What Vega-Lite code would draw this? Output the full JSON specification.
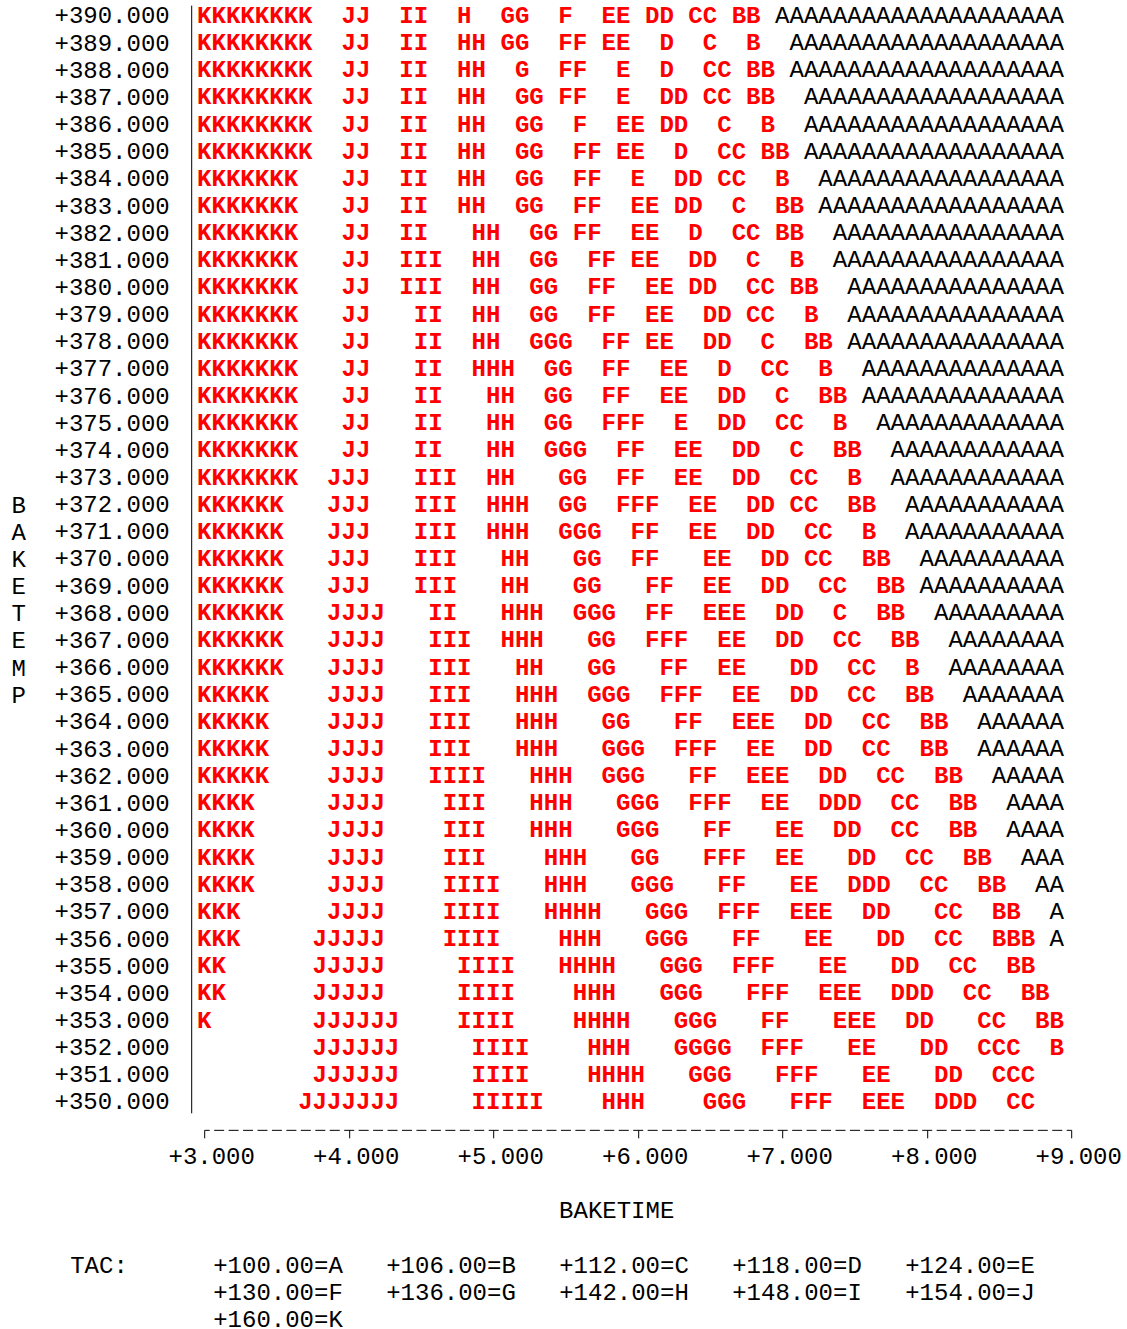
{
"$schema": "https://vega.github.io/schema/vega-lite/v6.json",
"width": 867, "height": 1107.7,
"autosize": {"type": "none"},
"padding": {"left": 204.2, "top": 5.14, "right": 55.8, "bottom": 216.16},
"background": "white",
"config": {"view": {"stroke": null}, "font": "Liberation Mono"},
"data": {"values": [
{"temp":390,"time":3,"run":"KKKKKKKK","key":"+160.00=K"},{"temp":390,"time":4,"run":"JJ","key":"+154.00=J"},{"temp":390,"time":4.4,"run":"II","key":"+148.00=I"},{"temp":390,"time":4.8,"run":"H","key":"+142.00=H"},{"temp":390,"time":5.1,"run":"GG","key":"+136.00=G"},{"temp":390,"time":5.5,"run":"F","key":"+130.00=F"},{"temp":390,"time":5.8,"run":"EE","key":"+124.00=E"},{"temp":390,"time":6.1,"run":"DD","key":"+118.00=D"},{"temp":390,"time":6.4,"run":"CC","key":"+112.00=C"},{"temp":390,"time":6.7,"run":"BB","key":"+106.00=B"},{"temp":390,"time":7,"run":"AAAAAAAAAAAAAAAAAAAA","key":"+100.00=A"},
{"temp":389,"time":3,"run":"KKKKKKKK","key":"+160.00=K"},{"temp":389,"time":4,"run":"JJ","key":"+154.00=J"},{"temp":389,"time":4.4,"run":"II","key":"+148.00=I"},{"temp":389,"time":4.8,"run":"HH","key":"+142.00=H"},{"temp":389,"time":5.1,"run":"GG","key":"+136.00=G"},{"temp":389,"time":5.5,"run":"FF","key":"+130.00=F"},{"temp":389,"time":5.8,"run":"EE","key":"+124.00=E"},{"temp":389,"time":6.2,"run":"D","key":"+118.00=D"},{"temp":389,"time":6.5,"run":"C","key":"+112.00=C"},{"temp":389,"time":6.8,"run":"B","key":"+106.00=B"},{"temp":389,"time":7.1,"run":"AAAAAAAAAAAAAAAAAAA","key":"+100.00=A"},
{"temp":388,"time":3,"run":"KKKKKKKK","key":"+160.00=K"},{"temp":388,"time":4,"run":"JJ","key":"+154.00=J"},{"temp":388,"time":4.4,"run":"II","key":"+148.00=I"},{"temp":388,"time":4.8,"run":"HH","key":"+142.00=H"},{"temp":388,"time":5.2,"run":"G","key":"+136.00=G"},{"temp":388,"time":5.5,"run":"FF","key":"+130.00=F"},{"temp":388,"time":5.9,"run":"E","key":"+124.00=E"},{"temp":388,"time":6.2,"run":"D","key":"+118.00=D"},{"temp":388,"time":6.5,"run":"CC","key":"+112.00=C"},{"temp":388,"time":6.8,"run":"BB","key":"+106.00=B"},{"temp":388,"time":7.1,"run":"AAAAAAAAAAAAAAAAAAA","key":"+100.00=A"},
{"temp":387,"time":3,"run":"KKKKKKKK","key":"+160.00=K"},{"temp":387,"time":4,"run":"JJ","key":"+154.00=J"},{"temp":387,"time":4.4,"run":"II","key":"+148.00=I"},{"temp":387,"time":4.8,"run":"HH","key":"+142.00=H"},{"temp":387,"time":5.2,"run":"GG","key":"+136.00=G"},{"temp":387,"time":5.5,"run":"FF","key":"+130.00=F"},{"temp":387,"time":5.9,"run":"E","key":"+124.00=E"},{"temp":387,"time":6.2,"run":"DD","key":"+118.00=D"},{"temp":387,"time":6.5,"run":"CC","key":"+112.00=C"},{"temp":387,"time":6.8,"run":"BB","key":"+106.00=B"},{"temp":387,"time":7.2,"run":"AAAAAAAAAAAAAAAAAA","key":"+100.00=A"},
{"temp":386,"time":3,"run":"KKKKKKKK","key":"+160.00=K"},{"temp":386,"time":4,"run":"JJ","key":"+154.00=J"},{"temp":386,"time":4.4,"run":"II","key":"+148.00=I"},{"temp":386,"time":4.8,"run":"HH","key":"+142.00=H"},{"temp":386,"time":5.2,"run":"GG","key":"+136.00=G"},{"temp":386,"time":5.6,"run":"F","key":"+130.00=F"},{"temp":386,"time":5.9,"run":"EE","key":"+124.00=E"},{"temp":386,"time":6.2,"run":"DD","key":"+118.00=D"},{"temp":386,"time":6.6,"run":"C","key":"+112.00=C"},{"temp":386,"time":6.9,"run":"B","key":"+106.00=B"},{"temp":386,"time":7.2,"run":"AAAAAAAAAAAAAAAAAA","key":"+100.00=A"},
{"temp":385,"time":3,"run":"KKKKKKKK","key":"+160.00=K"},{"temp":385,"time":4,"run":"JJ","key":"+154.00=J"},{"temp":385,"time":4.4,"run":"II","key":"+148.00=I"},{"temp":385,"time":4.8,"run":"HH","key":"+142.00=H"},{"temp":385,"time":5.2,"run":"GG","key":"+136.00=G"},{"temp":385,"time":5.6,"run":"FF","key":"+130.00=F"},{"temp":385,"time":5.9,"run":"EE","key":"+124.00=E"},{"temp":385,"time":6.3,"run":"D","key":"+118.00=D"},{"temp":385,"time":6.6,"run":"CC","key":"+112.00=C"},{"temp":385,"time":6.9,"run":"BB","key":"+106.00=B"},{"temp":385,"time":7.2,"run":"AAAAAAAAAAAAAAAAAA","key":"+100.00=A"},
{"temp":384,"time":3,"run":"KKKKKKK","key":"+160.00=K"},{"temp":384,"time":4,"run":"JJ","key":"+154.00=J"},{"temp":384,"time":4.4,"run":"II","key":"+148.00=I"},{"temp":384,"time":4.8,"run":"HH","key":"+142.00=H"},{"temp":384,"time":5.2,"run":"GG","key":"+136.00=G"},{"temp":384,"time":5.6,"run":"FF","key":"+130.00=F"},{"temp":384,"time":6,"run":"E","key":"+124.00=E"},{"temp":384,"time":6.3,"run":"DD","key":"+118.00=D"},{"temp":384,"time":6.6,"run":"CC","key":"+112.00=C"},{"temp":384,"time":7,"run":"B","key":"+106.00=B"},{"temp":384,"time":7.3,"run":"AAAAAAAAAAAAAAAAA","key":"+100.00=A"},
{"temp":383,"time":3,"run":"KKKKKKK","key":"+160.00=K"},{"temp":383,"time":4,"run":"JJ","key":"+154.00=J"},{"temp":383,"time":4.4,"run":"II","key":"+148.00=I"},{"temp":383,"time":4.8,"run":"HH","key":"+142.00=H"},{"temp":383,"time":5.2,"run":"GG","key":"+136.00=G"},{"temp":383,"time":5.6,"run":"FF","key":"+130.00=F"},{"temp":383,"time":6,"run":"EE","key":"+124.00=E"},{"temp":383,"time":6.3,"run":"DD","key":"+118.00=D"},{"temp":383,"time":6.7,"run":"C","key":"+112.00=C"},{"temp":383,"time":7,"run":"BB","key":"+106.00=B"},{"temp":383,"time":7.3,"run":"AAAAAAAAAAAAAAAAA","key":"+100.00=A"},
{"temp":382,"time":3,"run":"KKKKKKK","key":"+160.00=K"},{"temp":382,"time":4,"run":"JJ","key":"+154.00=J"},{"temp":382,"time":4.4,"run":"II","key":"+148.00=I"},{"temp":382,"time":4.9,"run":"HH","key":"+142.00=H"},{"temp":382,"time":5.3,"run":"GG","key":"+136.00=G"},{"temp":382,"time":5.6,"run":"FF","key":"+130.00=F"},{"temp":382,"time":6,"run":"EE","key":"+124.00=E"},{"temp":382,"time":6.4,"run":"D","key":"+118.00=D"},{"temp":382,"time":6.7,"run":"CC","key":"+112.00=C"},{"temp":382,"time":7,"run":"BB","key":"+106.00=B"},{"temp":382,"time":7.4,"run":"AAAAAAAAAAAAAAAA","key":"+100.00=A"},
{"temp":381,"time":3,"run":"KKKKKKK","key":"+160.00=K"},{"temp":381,"time":4,"run":"JJ","key":"+154.00=J"},{"temp":381,"time":4.4,"run":"III","key":"+148.00=I"},{"temp":381,"time":4.9,"run":"HH","key":"+142.00=H"},{"temp":381,"time":5.3,"run":"GG","key":"+136.00=G"},{"temp":381,"time":5.7,"run":"FF","key":"+130.00=F"},{"temp":381,"time":6,"run":"EE","key":"+124.00=E"},{"temp":381,"time":6.4,"run":"DD","key":"+118.00=D"},{"temp":381,"time":6.8,"run":"C","key":"+112.00=C"},{"temp":381,"time":7.1,"run":"B","key":"+106.00=B"},{"temp":381,"time":7.4,"run":"AAAAAAAAAAAAAAAA","key":"+100.00=A"},
{"temp":380,"time":3,"run":"KKKKKKK","key":"+160.00=K"},{"temp":380,"time":4,"run":"JJ","key":"+154.00=J"},{"temp":380,"time":4.4,"run":"III","key":"+148.00=I"},{"temp":380,"time":4.9,"run":"HH","key":"+142.00=H"},{"temp":380,"time":5.3,"run":"GG","key":"+136.00=G"},{"temp":380,"time":5.7,"run":"FF","key":"+130.00=F"},{"temp":380,"time":6.1,"run":"EE","key":"+124.00=E"},{"temp":380,"time":6.4,"run":"DD","key":"+118.00=D"},{"temp":380,"time":6.8,"run":"CC","key":"+112.00=C"},{"temp":380,"time":7.1,"run":"BB","key":"+106.00=B"},{"temp":380,"time":7.5,"run":"AAAAAAAAAAAAAAA","key":"+100.00=A"},
{"temp":379,"time":3,"run":"KKKKKKK","key":"+160.00=K"},{"temp":379,"time":4,"run":"JJ","key":"+154.00=J"},{"temp":379,"time":4.5,"run":"II","key":"+148.00=I"},{"temp":379,"time":4.9,"run":"HH","key":"+142.00=H"},{"temp":379,"time":5.3,"run":"GG","key":"+136.00=G"},{"temp":379,"time":5.7,"run":"FF","key":"+130.00=F"},{"temp":379,"time":6.1,"run":"EE","key":"+124.00=E"},{"temp":379,"time":6.5,"run":"DD","key":"+118.00=D"},{"temp":379,"time":6.8,"run":"CC","key":"+112.00=C"},{"temp":379,"time":7.2,"run":"B","key":"+106.00=B"},{"temp":379,"time":7.5,"run":"AAAAAAAAAAAAAAA","key":"+100.00=A"},
{"temp":378,"time":3,"run":"KKKKKKK","key":"+160.00=K"},{"temp":378,"time":4,"run":"JJ","key":"+154.00=J"},{"temp":378,"time":4.5,"run":"II","key":"+148.00=I"},{"temp":378,"time":4.9,"run":"HH","key":"+142.00=H"},{"temp":378,"time":5.3,"run":"GGG","key":"+136.00=G"},{"temp":378,"time":5.8,"run":"FF","key":"+130.00=F"},{"temp":378,"time":6.1,"run":"EE","key":"+124.00=E"},{"temp":378,"time":6.5,"run":"DD","key":"+118.00=D"},{"temp":378,"time":6.9,"run":"C","key":"+112.00=C"},{"temp":378,"time":7.2,"run":"BB","key":"+106.00=B"},{"temp":378,"time":7.5,"run":"AAAAAAAAAAAAAAA","key":"+100.00=A"},
{"temp":377,"time":3,"run":"KKKKKKK","key":"+160.00=K"},{"temp":377,"time":4,"run":"JJ","key":"+154.00=J"},{"temp":377,"time":4.5,"run":"II","key":"+148.00=I"},{"temp":377,"time":4.9,"run":"HHH","key":"+142.00=H"},{"temp":377,"time":5.4,"run":"GG","key":"+136.00=G"},{"temp":377,"time":5.8,"run":"FF","key":"+130.00=F"},{"temp":377,"time":6.2,"run":"EE","key":"+124.00=E"},{"temp":377,"time":6.6,"run":"D","key":"+118.00=D"},{"temp":377,"time":6.9,"run":"CC","key":"+112.00=C"},{"temp":377,"time":7.3,"run":"B","key":"+106.00=B"},{"temp":377,"time":7.6,"run":"AAAAAAAAAAAAAA","key":"+100.00=A"},
{"temp":376,"time":3,"run":"KKKKKKK","key":"+160.00=K"},{"temp":376,"time":4,"run":"JJ","key":"+154.00=J"},{"temp":376,"time":4.5,"run":"II","key":"+148.00=I"},{"temp":376,"time":5,"run":"HH","key":"+142.00=H"},{"temp":376,"time":5.4,"run":"GG","key":"+136.00=G"},{"temp":376,"time":5.8,"run":"FF","key":"+130.00=F"},{"temp":376,"time":6.2,"run":"EE","key":"+124.00=E"},{"temp":376,"time":6.6,"run":"DD","key":"+118.00=D"},{"temp":376,"time":7,"run":"C","key":"+112.00=C"},{"temp":376,"time":7.3,"run":"BB","key":"+106.00=B"},{"temp":376,"time":7.6,"run":"AAAAAAAAAAAAAA","key":"+100.00=A"},
{"temp":375,"time":3,"run":"KKKKKKK","key":"+160.00=K"},{"temp":375,"time":4,"run":"JJ","key":"+154.00=J"},{"temp":375,"time":4.5,"run":"II","key":"+148.00=I"},{"temp":375,"time":5,"run":"HH","key":"+142.00=H"},{"temp":375,"time":5.4,"run":"GG","key":"+136.00=G"},{"temp":375,"time":5.8,"run":"FFF","key":"+130.00=F"},{"temp":375,"time":6.3,"run":"E","key":"+124.00=E"},{"temp":375,"time":6.6,"run":"DD","key":"+118.00=D"},{"temp":375,"time":7,"run":"CC","key":"+112.00=C"},{"temp":375,"time":7.4,"run":"B","key":"+106.00=B"},{"temp":375,"time":7.7,"run":"AAAAAAAAAAAAA","key":"+100.00=A"},
{"temp":374,"time":3,"run":"KKKKKKK","key":"+160.00=K"},{"temp":374,"time":4,"run":"JJ","key":"+154.00=J"},{"temp":374,"time":4.5,"run":"II","key":"+148.00=I"},{"temp":374,"time":5,"run":"HH","key":"+142.00=H"},{"temp":374,"time":5.4,"run":"GGG","key":"+136.00=G"},{"temp":374,"time":5.9,"run":"FF","key":"+130.00=F"},{"temp":374,"time":6.3,"run":"EE","key":"+124.00=E"},{"temp":374,"time":6.7,"run":"DD","key":"+118.00=D"},{"temp":374,"time":7.1,"run":"C","key":"+112.00=C"},{"temp":374,"time":7.4,"run":"BB","key":"+106.00=B"},{"temp":374,"time":7.8,"run":"AAAAAAAAAAAA","key":"+100.00=A"},
{"temp":373,"time":3,"run":"KKKKKKK","key":"+160.00=K"},{"temp":373,"time":3.9,"run":"JJJ","key":"+154.00=J"},{"temp":373,"time":4.5,"run":"III","key":"+148.00=I"},{"temp":373,"time":5,"run":"HH","key":"+142.00=H"},{"temp":373,"time":5.5,"run":"GG","key":"+136.00=G"},{"temp":373,"time":5.9,"run":"FF","key":"+130.00=F"},{"temp":373,"time":6.3,"run":"EE","key":"+124.00=E"},{"temp":373,"time":6.7,"run":"DD","key":"+118.00=D"},{"temp":373,"time":7.1,"run":"CC","key":"+112.00=C"},{"temp":373,"time":7.5,"run":"B","key":"+106.00=B"},{"temp":373,"time":7.8,"run":"AAAAAAAAAAAA","key":"+100.00=A"},
{"temp":372,"time":3,"run":"KKKKKK","key":"+160.00=K"},{"temp":372,"time":3.9,"run":"JJJ","key":"+154.00=J"},{"temp":372,"time":4.5,"run":"III","key":"+148.00=I"},{"temp":372,"time":5,"run":"HHH","key":"+142.00=H"},{"temp":372,"time":5.5,"run":"GG","key":"+136.00=G"},{"temp":372,"time":5.9,"run":"FFF","key":"+130.00=F"},{"temp":372,"time":6.4,"run":"EE","key":"+124.00=E"},{"temp":372,"time":6.8,"run":"DD","key":"+118.00=D"},{"temp":372,"time":7.1,"run":"CC","key":"+112.00=C"},{"temp":372,"time":7.5,"run":"BB","key":"+106.00=B"},{"temp":372,"time":7.9,"run":"AAAAAAAAAAA","key":"+100.00=A"},
{"temp":371,"time":3,"run":"KKKKKK","key":"+160.00=K"},{"temp":371,"time":3.9,"run":"JJJ","key":"+154.00=J"},{"temp":371,"time":4.5,"run":"III","key":"+148.00=I"},{"temp":371,"time":5,"run":"HHH","key":"+142.00=H"},{"temp":371,"time":5.5,"run":"GGG","key":"+136.00=G"},{"temp":371,"time":6,"run":"FF","key":"+130.00=F"},{"temp":371,"time":6.4,"run":"EE","key":"+124.00=E"},{"temp":371,"time":6.8,"run":"DD","key":"+118.00=D"},{"temp":371,"time":7.2,"run":"CC","key":"+112.00=C"},{"temp":371,"time":7.6,"run":"B","key":"+106.00=B"},{"temp":371,"time":7.9,"run":"AAAAAAAAAAA","key":"+100.00=A"},
{"temp":370,"time":3,"run":"KKKKKK","key":"+160.00=K"},{"temp":370,"time":3.9,"run":"JJJ","key":"+154.00=J"},{"temp":370,"time":4.5,"run":"III","key":"+148.00=I"},{"temp":370,"time":5.1,"run":"HH","key":"+142.00=H"},{"temp":370,"time":5.6,"run":"GG","key":"+136.00=G"},{"temp":370,"time":6,"run":"FF","key":"+130.00=F"},{"temp":370,"time":6.5,"run":"EE","key":"+124.00=E"},{"temp":370,"time":6.9,"run":"DD","key":"+118.00=D"},{"temp":370,"time":7.2,"run":"CC","key":"+112.00=C"},{"temp":370,"time":7.6,"run":"BB","key":"+106.00=B"},{"temp":370,"time":8,"run":"AAAAAAAAAA","key":"+100.00=A"},
{"temp":369,"time":3,"run":"KKKKKK","key":"+160.00=K"},{"temp":369,"time":3.9,"run":"JJJ","key":"+154.00=J"},{"temp":369,"time":4.5,"run":"III","key":"+148.00=I"},{"temp":369,"time":5.1,"run":"HH","key":"+142.00=H"},{"temp":369,"time":5.6,"run":"GG","key":"+136.00=G"},{"temp":369,"time":6.1,"run":"FF","key":"+130.00=F"},{"temp":369,"time":6.5,"run":"EE","key":"+124.00=E"},{"temp":369,"time":6.9,"run":"DD","key":"+118.00=D"},{"temp":369,"time":7.3,"run":"CC","key":"+112.00=C"},{"temp":369,"time":7.7,"run":"BB","key":"+106.00=B"},{"temp":369,"time":8,"run":"AAAAAAAAAA","key":"+100.00=A"},
{"temp":368,"time":3,"run":"KKKKKK","key":"+160.00=K"},{"temp":368,"time":3.9,"run":"JJJJ","key":"+154.00=J"},{"temp":368,"time":4.6,"run":"II","key":"+148.00=I"},{"temp":368,"time":5.1,"run":"HHH","key":"+142.00=H"},{"temp":368,"time":5.6,"run":"GGG","key":"+136.00=G"},{"temp":368,"time":6.1,"run":"FF","key":"+130.00=F"},{"temp":368,"time":6.5,"run":"EEE","key":"+124.00=E"},{"temp":368,"time":7,"run":"DD","key":"+118.00=D"},{"temp":368,"time":7.4,"run":"C","key":"+112.00=C"},{"temp":368,"time":7.7,"run":"BB","key":"+106.00=B"},{"temp":368,"time":8.1,"run":"AAAAAAAAA","key":"+100.00=A"},
{"temp":367,"time":3,"run":"KKKKKK","key":"+160.00=K"},{"temp":367,"time":3.9,"run":"JJJJ","key":"+154.00=J"},{"temp":367,"time":4.6,"run":"III","key":"+148.00=I"},{"temp":367,"time":5.1,"run":"HHH","key":"+142.00=H"},{"temp":367,"time":5.7,"run":"GG","key":"+136.00=G"},{"temp":367,"time":6.1,"run":"FFF","key":"+130.00=F"},{"temp":367,"time":6.6,"run":"EE","key":"+124.00=E"},{"temp":367,"time":7,"run":"DD","key":"+118.00=D"},{"temp":367,"time":7.4,"run":"CC","key":"+112.00=C"},{"temp":367,"time":7.8,"run":"BB","key":"+106.00=B"},{"temp":367,"time":8.2,"run":"AAAAAAAA","key":"+100.00=A"},
{"temp":366,"time":3,"run":"KKKKKK","key":"+160.00=K"},{"temp":366,"time":3.9,"run":"JJJJ","key":"+154.00=J"},{"temp":366,"time":4.6,"run":"III","key":"+148.00=I"},{"temp":366,"time":5.2,"run":"HH","key":"+142.00=H"},{"temp":366,"time":5.7,"run":"GG","key":"+136.00=G"},{"temp":366,"time":6.2,"run":"FF","key":"+130.00=F"},{"temp":366,"time":6.6,"run":"EE","key":"+124.00=E"},{"temp":366,"time":7.1,"run":"DD","key":"+118.00=D"},{"temp":366,"time":7.5,"run":"CC","key":"+112.00=C"},{"temp":366,"time":7.9,"run":"B","key":"+106.00=B"},{"temp":366,"time":8.2,"run":"AAAAAAAA","key":"+100.00=A"},
{"temp":365,"time":3,"run":"KKKKK","key":"+160.00=K"},{"temp":365,"time":3.9,"run":"JJJJ","key":"+154.00=J"},{"temp":365,"time":4.6,"run":"III","key":"+148.00=I"},{"temp":365,"time":5.2,"run":"HHH","key":"+142.00=H"},{"temp":365,"time":5.7,"run":"GGG","key":"+136.00=G"},{"temp":365,"time":6.2,"run":"FFF","key":"+130.00=F"},{"temp":365,"time":6.7,"run":"EE","key":"+124.00=E"},{"temp":365,"time":7.1,"run":"DD","key":"+118.00=D"},{"temp":365,"time":7.5,"run":"CC","key":"+112.00=C"},{"temp":365,"time":7.9,"run":"BB","key":"+106.00=B"},{"temp":365,"time":8.3,"run":"AAAAAAA","key":"+100.00=A"},
{"temp":364,"time":3,"run":"KKKKK","key":"+160.00=K"},{"temp":364,"time":3.9,"run":"JJJJ","key":"+154.00=J"},{"temp":364,"time":4.6,"run":"III","key":"+148.00=I"},{"temp":364,"time":5.2,"run":"HHH","key":"+142.00=H"},{"temp":364,"time":5.8,"run":"GG","key":"+136.00=G"},{"temp":364,"time":6.3,"run":"FF","key":"+130.00=F"},{"temp":364,"time":6.7,"run":"EEE","key":"+124.00=E"},{"temp":364,"time":7.2,"run":"DD","key":"+118.00=D"},{"temp":364,"time":7.6,"run":"CC","key":"+112.00=C"},{"temp":364,"time":8,"run":"BB","key":"+106.00=B"},{"temp":364,"time":8.4,"run":"AAAAAA","key":"+100.00=A"},
{"temp":363,"time":3,"run":"KKKKK","key":"+160.00=K"},{"temp":363,"time":3.9,"run":"JJJJ","key":"+154.00=J"},{"temp":363,"time":4.6,"run":"III","key":"+148.00=I"},{"temp":363,"time":5.2,"run":"HHH","key":"+142.00=H"},{"temp":363,"time":5.8,"run":"GGG","key":"+136.00=G"},{"temp":363,"time":6.3,"run":"FFF","key":"+130.00=F"},{"temp":363,"time":6.8,"run":"EE","key":"+124.00=E"},{"temp":363,"time":7.2,"run":"DD","key":"+118.00=D"},{"temp":363,"time":7.6,"run":"CC","key":"+112.00=C"},{"temp":363,"time":8,"run":"BB","key":"+106.00=B"},{"temp":363,"time":8.4,"run":"AAAAAA","key":"+100.00=A"},
{"temp":362,"time":3,"run":"KKKKK","key":"+160.00=K"},{"temp":362,"time":3.9,"run":"JJJJ","key":"+154.00=J"},{"temp":362,"time":4.6,"run":"IIII","key":"+148.00=I"},{"temp":362,"time":5.3,"run":"HHH","key":"+142.00=H"},{"temp":362,"time":5.8,"run":"GGG","key":"+136.00=G"},{"temp":362,"time":6.4,"run":"FF","key":"+130.00=F"},{"temp":362,"time":6.8,"run":"EEE","key":"+124.00=E"},{"temp":362,"time":7.3,"run":"DD","key":"+118.00=D"},{"temp":362,"time":7.7,"run":"CC","key":"+112.00=C"},{"temp":362,"time":8.1,"run":"BB","key":"+106.00=B"},{"temp":362,"time":8.5,"run":"AAAAA","key":"+100.00=A"},
{"temp":361,"time":3,"run":"KKKK","key":"+160.00=K"},{"temp":361,"time":3.9,"run":"JJJJ","key":"+154.00=J"},{"temp":361,"time":4.7,"run":"III","key":"+148.00=I"},{"temp":361,"time":5.3,"run":"HHH","key":"+142.00=H"},{"temp":361,"time":5.9,"run":"GGG","key":"+136.00=G"},{"temp":361,"time":6.4,"run":"FFF","key":"+130.00=F"},{"temp":361,"time":6.9,"run":"EE","key":"+124.00=E"},{"temp":361,"time":7.3,"run":"DDD","key":"+118.00=D"},{"temp":361,"time":7.8,"run":"CC","key":"+112.00=C"},{"temp":361,"time":8.2,"run":"BB","key":"+106.00=B"},{"temp":361,"time":8.6,"run":"AAAA","key":"+100.00=A"},
{"temp":360,"time":3,"run":"KKKK","key":"+160.00=K"},{"temp":360,"time":3.9,"run":"JJJJ","key":"+154.00=J"},{"temp":360,"time":4.7,"run":"III","key":"+148.00=I"},{"temp":360,"time":5.3,"run":"HHH","key":"+142.00=H"},{"temp":360,"time":5.9,"run":"GGG","key":"+136.00=G"},{"temp":360,"time":6.5,"run":"FF","key":"+130.00=F"},{"temp":360,"time":7,"run":"EE","key":"+124.00=E"},{"temp":360,"time":7.4,"run":"DD","key":"+118.00=D"},{"temp":360,"time":7.8,"run":"CC","key":"+112.00=C"},{"temp":360,"time":8.2,"run":"BB","key":"+106.00=B"},{"temp":360,"time":8.6,"run":"AAAA","key":"+100.00=A"},
{"temp":359,"time":3,"run":"KKKK","key":"+160.00=K"},{"temp":359,"time":3.9,"run":"JJJJ","key":"+154.00=J"},{"temp":359,"time":4.7,"run":"III","key":"+148.00=I"},{"temp":359,"time":5.4,"run":"HHH","key":"+142.00=H"},{"temp":359,"time":6,"run":"GG","key":"+136.00=G"},{"temp":359,"time":6.5,"run":"FFF","key":"+130.00=F"},{"temp":359,"time":7,"run":"EE","key":"+124.00=E"},{"temp":359,"time":7.5,"run":"DD","key":"+118.00=D"},{"temp":359,"time":7.9,"run":"CC","key":"+112.00=C"},{"temp":359,"time":8.3,"run":"BB","key":"+106.00=B"},{"temp":359,"time":8.7,"run":"AAA","key":"+100.00=A"},
{"temp":358,"time":3,"run":"KKKK","key":"+160.00=K"},{"temp":358,"time":3.9,"run":"JJJJ","key":"+154.00=J"},{"temp":358,"time":4.7,"run":"IIII","key":"+148.00=I"},{"temp":358,"time":5.4,"run":"HHH","key":"+142.00=H"},{"temp":358,"time":6,"run":"GGG","key":"+136.00=G"},{"temp":358,"time":6.6,"run":"FF","key":"+130.00=F"},{"temp":358,"time":7.1,"run":"EE","key":"+124.00=E"},{"temp":358,"time":7.5,"run":"DDD","key":"+118.00=D"},{"temp":358,"time":8,"run":"CC","key":"+112.00=C"},{"temp":358,"time":8.4,"run":"BB","key":"+106.00=B"},{"temp":358,"time":8.8,"run":"AA","key":"+100.00=A"},
{"temp":357,"time":3,"run":"KKK","key":"+160.00=K"},{"temp":357,"time":3.9,"run":"JJJJ","key":"+154.00=J"},{"temp":357,"time":4.7,"run":"IIII","key":"+148.00=I"},{"temp":357,"time":5.4,"run":"HHHH","key":"+142.00=H"},{"temp":357,"time":6.1,"run":"GGG","key":"+136.00=G"},{"temp":357,"time":6.6,"run":"FFF","key":"+130.00=F"},{"temp":357,"time":7.1,"run":"EEE","key":"+124.00=E"},{"temp":357,"time":7.6,"run":"DD","key":"+118.00=D"},{"temp":357,"time":8.1,"run":"CC","key":"+112.00=C"},{"temp":357,"time":8.5,"run":"BB","key":"+106.00=B"},{"temp":357,"time":8.9,"run":"A","key":"+100.00=A"},
{"temp":356,"time":3,"run":"KKK","key":"+160.00=K"},{"temp":356,"time":3.8,"run":"JJJJJ","key":"+154.00=J"},{"temp":356,"time":4.7,"run":"IIII","key":"+148.00=I"},{"temp":356,"time":5.5,"run":"HHH","key":"+142.00=H"},{"temp":356,"time":6.1,"run":"GGG","key":"+136.00=G"},{"temp":356,"time":6.7,"run":"FF","key":"+130.00=F"},{"temp":356,"time":7.2,"run":"EE","key":"+124.00=E"},{"temp":356,"time":7.7,"run":"DD","key":"+118.00=D"},{"temp":356,"time":8.1,"run":"CC","key":"+112.00=C"},{"temp":356,"time":8.5,"run":"BBB","key":"+106.00=B"},{"temp":356,"time":8.9,"run":"A","key":"+100.00=A"},
{"temp":355,"time":3,"run":"KK","key":"+160.00=K"},{"temp":355,"time":3.8,"run":"JJJJJ","key":"+154.00=J"},{"temp":355,"time":4.8,"run":"IIII","key":"+148.00=I"},{"temp":355,"time":5.5,"run":"HHHH","key":"+142.00=H"},{"temp":355,"time":6.2,"run":"GGG","key":"+136.00=G"},{"temp":355,"time":6.7,"run":"FFF","key":"+130.00=F"},{"temp":355,"time":7.3,"run":"EE","key":"+124.00=E"},{"temp":355,"time":7.8,"run":"DD","key":"+118.00=D"},{"temp":355,"time":8.2,"run":"CC","key":"+112.00=C"},{"temp":355,"time":8.6,"run":"BB","key":"+106.00=B"},
{"temp":354,"time":3,"run":"KK","key":"+160.00=K"},{"temp":354,"time":3.8,"run":"JJJJJ","key":"+154.00=J"},{"temp":354,"time":4.8,"run":"IIII","key":"+148.00=I"},{"temp":354,"time":5.6,"run":"HHH","key":"+142.00=H"},{"temp":354,"time":6.2,"run":"GGG","key":"+136.00=G"},{"temp":354,"time":6.8,"run":"FFF","key":"+130.00=F"},{"temp":354,"time":7.3,"run":"EEE","key":"+124.00=E"},{"temp":354,"time":7.8,"run":"DDD","key":"+118.00=D"},{"temp":354,"time":8.3,"run":"CC","key":"+112.00=C"},{"temp":354,"time":8.7,"run":"BB","key":"+106.00=B"},
{"temp":353,"time":3,"run":"K","key":"+160.00=K"},{"temp":353,"time":3.8,"run":"JJJJJJ","key":"+154.00=J"},{"temp":353,"time":4.8,"run":"IIII","key":"+148.00=I"},{"temp":353,"time":5.6,"run":"HHHH","key":"+142.00=H"},{"temp":353,"time":6.3,"run":"GGG","key":"+136.00=G"},{"temp":353,"time":6.9,"run":"FF","key":"+130.00=F"},{"temp":353,"time":7.4,"run":"EEE","key":"+124.00=E"},{"temp":353,"time":7.9,"run":"DD","key":"+118.00=D"},{"temp":353,"time":8.4,"run":"CC","key":"+112.00=C"},{"temp":353,"time":8.8,"run":"BB","key":"+106.00=B"},
{"temp":352,"time":3.8,"run":"JJJJJJ","key":"+154.00=J"},{"temp":352,"time":4.9,"run":"IIII","key":"+148.00=I"},{"temp":352,"time":5.7,"run":"HHH","key":"+142.00=H"},{"temp":352,"time":6.3,"run":"GGGG","key":"+136.00=G"},{"temp":352,"time":6.9,"run":"FFF","key":"+130.00=F"},{"temp":352,"time":7.5,"run":"EE","key":"+124.00=E"},{"temp":352,"time":8,"run":"DD","key":"+118.00=D"},{"temp":352,"time":8.4,"run":"CCC","key":"+112.00=C"},{"temp":352,"time":8.9,"run":"B","key":"+106.00=B"},
{"temp":351,"time":3.8,"run":"JJJJJJ","key":"+154.00=J"},{"temp":351,"time":4.9,"run":"IIII","key":"+148.00=I"},{"temp":351,"time":5.7,"run":"HHHH","key":"+142.00=H"},{"temp":351,"time":6.4,"run":"GGG","key":"+136.00=G"},{"temp":351,"time":7,"run":"FFF","key":"+130.00=F"},{"temp":351,"time":7.6,"run":"EE","key":"+124.00=E"},{"temp":351,"time":8.1,"run":"DD","key":"+118.00=D"},{"temp":351,"time":8.5,"run":"CCC","key":"+112.00=C"},
{"temp":350,"time":3.7,"run":"JJJJJJJ","key":"+154.00=J"},{"temp":350,"time":4.9,"run":"IIIII","key":"+148.00=I"},{"temp":350,"time":5.8,"run":"HHH","key":"+142.00=H"},{"temp":350,"time":6.5,"run":"GGG","key":"+136.00=G"},{"temp":350,"time":7.1,"run":"FFF","key":"+130.00=F"},{"temp":350,"time":7.6,"run":"EEE","key":"+124.00=E"},{"temp":350,"time":8.1,"run":"DDD","key":"+118.00=D"},{"temp":350,"time":8.6,"run":"CC","key":"+112.00=C"}
]},
"encoding": {
  "x": {"field": "time", "type": "quantitative",
    "scale": {"domain": [3, 9], "nice": false, "zero": false},
    "axis": {"values": [3, 4, 5, 6, 7, 8, 9], "labelExpr": "'+' + format(datum.value, '.3f')",
      "offset": 17, "grid": false, "domainColor": "black", "domainWidth": 1, "domainDash": [10, 4.45], "domainDashOffset": 5,
      "tickColor": "black", "tickSize": 8, "tickWidth": 1,
      "labelFont": "Liberation Mono", "labelFontSize": 24, "labelColor": "black", "labelOffset": 7,
      "labelBaseline": "middle", "labelPadding": 19, "labelFlush": false, "labelOverlap": false, "labelBound": false,
      "title": "BAKETIME", "titleFont": "Liberation Mono", "titleFontSize": 24, "titleFontWeight": "normal", "titleColor": "black",
      "titleX": 412, "titleY": 81, "titleAlign": "center", "titleBaseline": "middle"}},
  "y": {"field": "temp", "type": "quantitative",
    "scale": {"domain": [349.6, 390.4], "nice": false, "zero": false},
    "axis": {"values": [350,351,352,353,354,355,356,357,358,359,360,361,362,363,364,365,366,367,368,369,370,371,372,373,374,375,376,377,378,379,380,381,382,383,384,385,386,387,388,389,390],
      "labelExpr": "'+' + format(datum.value, '.3f')",
      "offset": 13, "grid": false, "ticks": false, "domainColor": "black", "domainWidth": 1,
      "labelFont": "Liberation Mono", "labelFontSize": 24, "labelColor": "black", "labelPadding": 22,
      "labelBaseline": "middle", "labelOverlap": false, "labelBound": false, "labelFlush": false,
      "title": ["B", "A", "K", "E", "T", "E", "M", "P"], "titleAngle": 0, "titleX": -173, "titleY": 500,
      "titleAlign": "center", "titleBaseline": "middle", "titleLineHeight": 27.15,
      "titleFont": "Liberation Mono", "titleFontSize": 24, "titleFontWeight": "normal", "titleColor": "black"}},
  "text": {"field": "run"},
  "color": {"field": "key", "type": "nominal",
    "scale": {"domain": ["+100.00=A", "+106.00=B", "+112.00=C", "+118.00=D", "+124.00=E", "+130.00=F", "+136.00=G", "+142.00=H", "+148.00=I", "+154.00=J", "+160.00=K"],
      "range": ["#000000", "#ff0000", "#ff0000", "#ff0000", "#ff0000", "#ff0000", "#ff0000", "#ff0000", "#ff0000", "#ff0000", "#ff0000"]},
    "legend": {"orient": "none", "legendX": -134, "legendY": 1249, "direction": "horizontal", "columns": 5,
      "title": "TAC:", "titleOrient": "left", "titleAnchor": "start", "titleFont": "Liberation Mono", "titleFontSize": 24, "titleFontWeight": "normal",
      "titleColor": "black", "titlePadding": 61,
      "labelFont": "Liberation Mono", "labelFontSize": 24, "labelColor": "black", "labelOffset": 0, "labelLimit": 0,
      "symbolSize": 0, "symbolOpacity": 0, "symbolStrokeWidth": 0, "symbolType": "square",
      "columnPadding": 19, "rowPadding": 3, "padding": 0}}
},
"layer": [
  {"transform": [{"filter": "datum.key === '+100.00=A'"}],
   "mark": {"type": "text", "align": "left", "baseline": "middle", "dx": -7.22, "font": "Liberation Mono", "fontSize": 24.08, "fontWeight": "normal"}},
  {"transform": [{"filter": "datum.key !== '+100.00=A'"}],
   "mark": {"type": "text", "align": "left", "baseline": "middle", "dx": -7.22, "font": "Liberation Mono", "fontSize": 24.08, "fontWeight": "bold"}}
]
}
